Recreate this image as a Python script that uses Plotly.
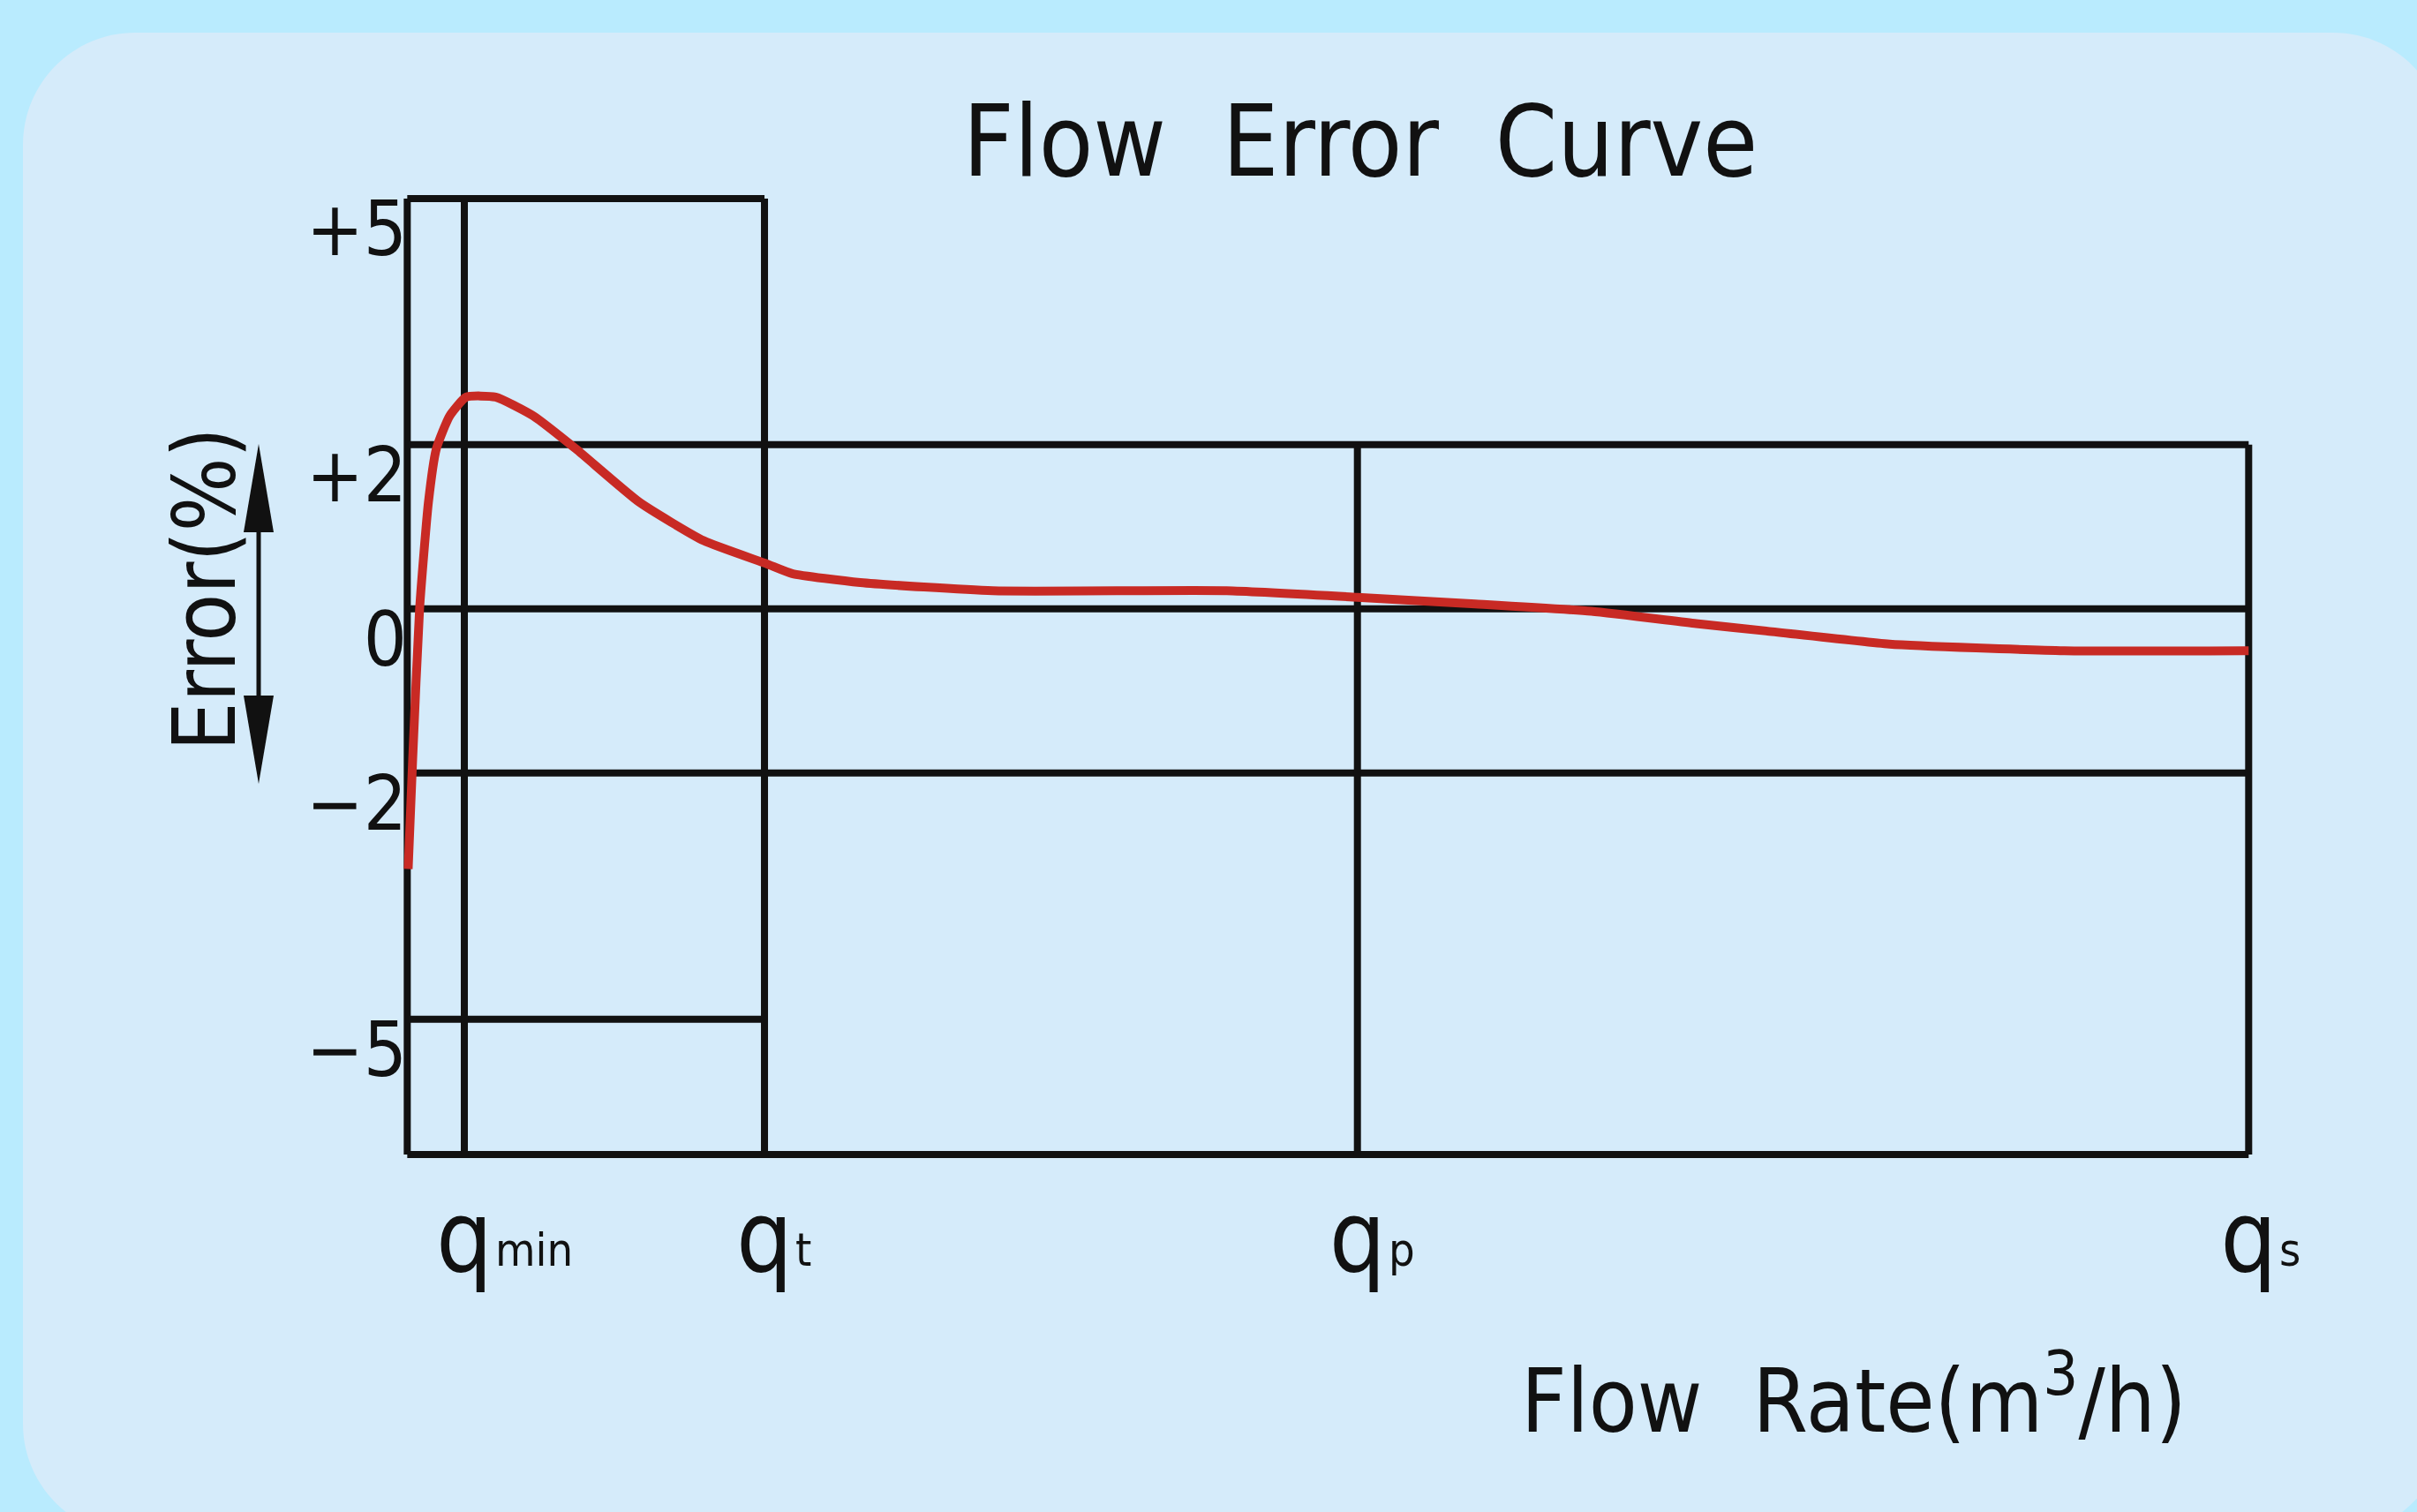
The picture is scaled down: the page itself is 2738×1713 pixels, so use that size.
import plotly.graph_objects as go

# ---------------- data ----------------
# flow-rate positions (relative scale, left border = 0, qs = 100)
flow_marks = ["qmin", "qt", "qp", "qs"]
flow_pos = [3.1, 19.4, 51.6, 100.0]
flow_sub = ["min", "t", "p", "s"]

# error levels (%)
error_levels = [5, 2, 0, -2, -5]
error_labels = ["+5", "+2", "0", "−2", "−5"]
error_floor = -6.65

# measured error curve
curve_x = [0.05, 0.3, 0.67, 1.15, 1.58, 2.3, 3.2, 4.8, 6.85, 9.15, 12.6, 16.1,
           19.5, 20.9, 24.6, 31.8, 44.5, 51.6, 58.0, 64.3, 70.0, 73.8, 80.5, 90.0, 100.0]
curve_y = [-3.17, -1.8, 0.0, 1.3, 1.95, 2.35, 2.58, 2.58, 2.35, 1.95, 1.3, 0.83,
           0.55, 0.43, 0.32, 0.22, 0.22, 0.14, 0.06, -0.03, -0.18, -0.27, -0.43, -0.51, -0.51]

# ---------------- layout geometry ----------------
W, H = 2738, 1713
L, R, T, B = 453, 2564, 197, 1322
PW, PH = R - L, B - T
FONT = "DejaVu Sans Condensed, Liberation Sans Narrow, DejaVu Sans, sans-serif"
BLACK = "#111111"
RED = "rgb(200,42,36)"
PAPER = "#b9ebfe"
NB = "\u00a0"


def px(x):
    return (x - L) / PW


def py(y):
    return (B - y) / PH


fig = go.Figure()

fig.add_trace(go.Scatter(
    x=curve_x, y=curve_y, mode="lines",
    line=dict(color=RED, width=10, shape="spline", smoothing=0.5),
    hoverinfo="skip", showlegend=False,
))

shapes = []

# rounded background panel
pl, pt, pr, pb, rad = 26, 37, 2770, 1740, 127
k = 0.5523 * rad
pts = [
    ("M", [(pl + rad, pt)]),
    ("L", [(pr - rad, pt)]),
    ("C", [(pr - rad + k, pt), (pr, pt + rad - k), (pr, pt + rad)]),
    ("L", [(pr, pb - rad)]),
    ("C", [(pr, pb - rad + k), (pr - rad + k, pb), (pr - rad, pb)]),
    ("L", [(pl + rad, pb)]),
    ("C", [(pl + rad - k, pb), (pl, pb - rad + k), (pl, pb - rad)]),
    ("L", [(pl, pt + rad)]),
    ("C", [(pl, pt + rad - k), (pl + rad - k, pt), (pl + rad, pt)]),
]
path = ""
for cmd, plist in pts:
    path += cmd + " " + " ".join(f"{px(a):.5f},{py(b):.5f}" for a, b in plist) + " "
path += "Z"
shapes.append(dict(type="path", path=path, xref="paper", yref="paper",
                   fillcolor="#d5ebfa", line=dict(width=0), layer="below"))

x_left = 0.0
x_qmin, x_qt, x_qp, x_qs = flow_pos
lw = 8


def hline(y, x0, x1):
    shapes.append(dict(type="line", xref="x", yref="y", x0=x0, x1=x1, y0=y, y1=y,
                       line=dict(color=BLACK, width=lw), layer="below"))


def vline(x, y0, y1):
    shapes.append(dict(type="line", xref="x", yref="y", x0=x, x1=x, y0=y0, y1=y1,
                       line=dict(color=BLACK, width=lw), layer="below"))


hline(error_levels[0], x_left, x_qt)
hline(error_levels[1], x_left, x_qs)
hline(error_levels[2], x_left, x_qs)
hline(error_levels[3], x_left, x_qs)
hline(error_levels[4], x_left, x_qt)
hline(error_floor, x_left, x_qs)
vline(x_left, error_floor, error_levels[0])
vline(x_qmin, error_floor, error_levels[0])
vline(x_qt, error_floor, error_levels[0])
vline(x_qp, error_floor, error_levels[1])
vline(x_qs, error_floor, error_levels[1])

# double-headed arrow beside the y label
ax = px(293)
y_top, y_bot = py(503), py(888)
head_len = 100 / PH
head_w = 17 / PW
shapes.append(dict(type="line", xref="paper", yref="paper", x0=ax, x1=ax,
                   y0=y_bot + head_len * 0.6, y1=y_top - head_len * 0.6,
                   line=dict(color=BLACK, width=5)))
shapes.append(dict(type="path", xref="paper", yref="paper",
                   path=f"M {ax:.5f},{y_top:.5f} L {ax - head_w:.5f},{y_top - head_len:.5f} "
                        f"L {ax + head_w:.5f},{y_top - head_len:.5f} Z",
                   fillcolor=BLACK, line=dict(width=0)))
shapes.append(dict(type="path", xref="paper", yref="paper",
                   path=f"M {ax:.5f},{y_bot:.5f} L {ax - head_w:.5f},{y_bot + head_len:.5f} "
                        f"L {ax + head_w:.5f},{y_bot + head_len:.5f} Z",
                   fillcolor=BLACK, line=dict(width=0)))

annotations = [
    dict(text="Error(%)", xref="paper", yref="paper", x=px(232), y=py(668),
         textangle=-90, showarrow=False, xanchor="center", yanchor="middle",
         font=dict(family=FONT, size=98, color=BLACK)),
    dict(text=f"Flow{NB}{NB}Rate(m<sup>3</sup>/h)", xref="paper", yref="paper",
         x=px(2100), y=py(1580), showarrow=False, xanchor="center", yanchor="middle",
         font=dict(family=FONT, size=100, color=BLACK)),
]
# subscripts of the flow-rate tick labels
for xv, s in zip(flow_pos, flow_sub):
    annotations.append(dict(text=s, xref="x", yref="paper", x=xv, y=py(1416),
                            xanchor="left", yanchor="middle", xshift=33, showarrow=False,
                            font=dict(family=FONT, size=52, color=BLACK)))

fig.update_layout(
    width=W, height=H,
    margin=dict(l=L, r=W - R, t=T, b=H - B, autoexpand=False),
    paper_bgcolor=PAPER,
    plot_bgcolor="rgba(0,0,0,0)",
    title=dict(text=f"Flow{NB}{NB}Error{NB}{NB}Curve", x=1541 / W, y=1 - 160 / H,
               xref="container", yref="container", xanchor="center", yanchor="middle",
               font=dict(family=FONT, size=112, color=BLACK)),
    shapes=shapes,
    annotations=annotations,
    showlegend=False,
    xaxis=dict(range=[-0.4, 100.8], showgrid=False, zeroline=False, showline=False,
               tickmode="array", tickvals=flow_pos, ticktext=["q"] * len(flow_pos), ticks="",
               tickfont=dict(family=FONT, size=112, color=BLACK),
               ticklabelstandoff=6, fixedrange=True),
    yaxis=dict(range=[-6.8, 5.3], showgrid=False, zeroline=False, showline=False,
               tickmode="array", tickvals=error_levels, ticktext=error_labels, ticks="",
               tickfont=dict(family=FONT, size=86, color=BLACK),
               ticklabelshift=34, ticklabelstandoff=-9, fixedrange=True),
)

fig.write_html(
    "out.html",
    config={"displayModeBar": False, "staticPlot": True},
    post_script=f"document.body.style.margin='0';document.body.style.background='{PAPER}';",
)
